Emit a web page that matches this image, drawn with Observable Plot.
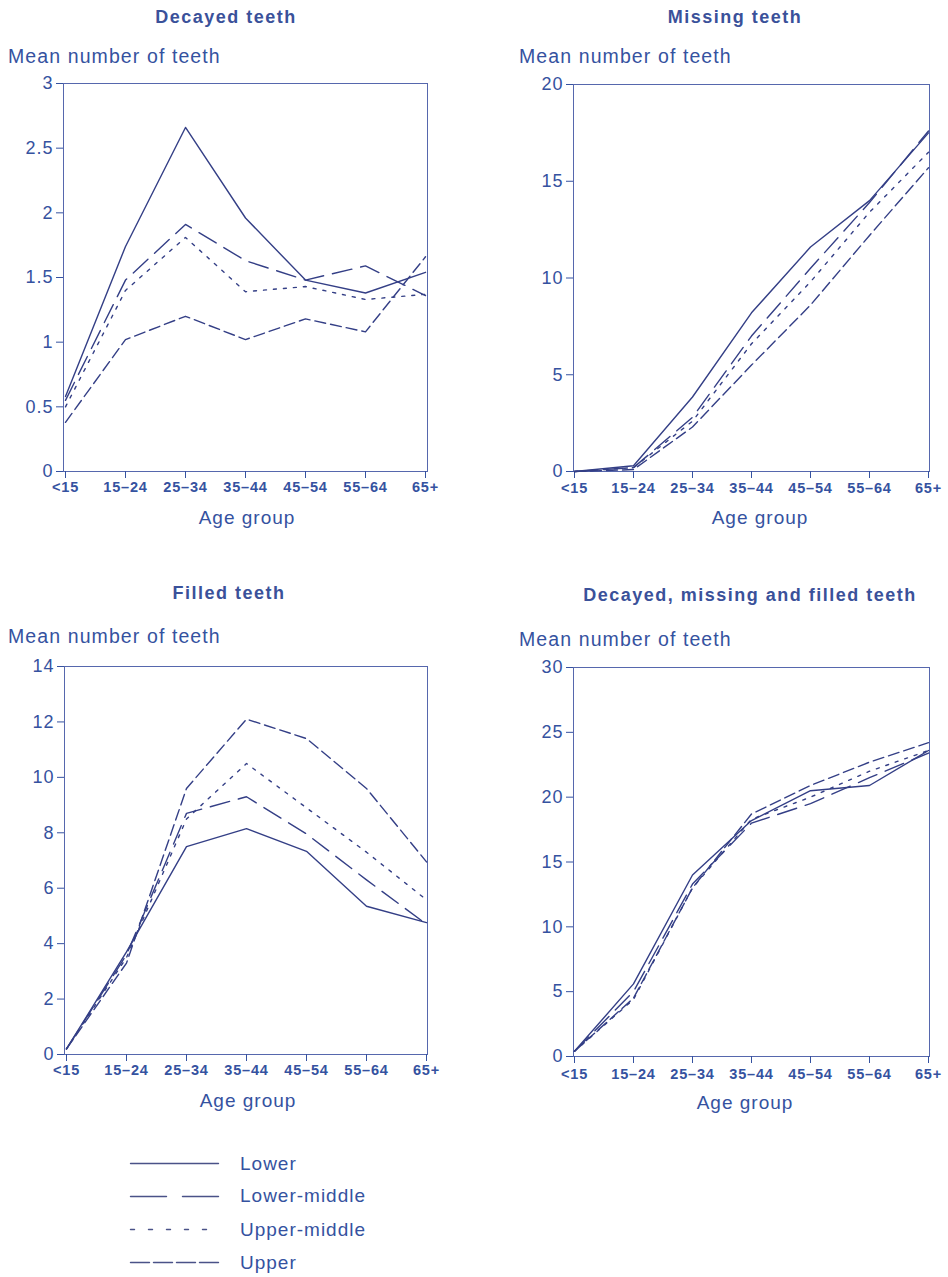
<!DOCTYPE html>
<html><head><meta charset="utf-8">
<script src="https://cdn.jsdelivr.net/npm/d3@7"></script>
<script src="https://cdn.jsdelivr.net/npm/@observablehq/plot@0.6"></script>
<style>
body{margin:0;background:#fff;}
#root{position:relative;width:948px;height:1277px;font-family:"Liberation Sans",Arial,sans-serif;color:#3552a0;overflow:hidden;}
.t{position:absolute;white-space:nowrap;line-height:1;}
.title{font-weight:bold;font-size:18px;letter-spacing:1.5px;transform:translateX(-50%);color:#3a519a;}
.ylab{font-size:19.5px;letter-spacing:1.1px;}
.xlab{font-size:19px;letter-spacing:1px;transform:translateX(-50%);}
.leg{font-size:19px;letter-spacing:1px;}
.panel{position:absolute;}
.panel svg{overflow:visible;}
.panel g[aria-label="x-axis tick label"] text{font-size:14.5px !important;font-weight:bold;letter-spacing:0.8px;}
.panel g[aria-label="y-axis tick label"] text{font-size:18px;letter-spacing:1px;}
</style>
</head><body><div id="root"></div>
<script>
const ages = ["<15", "15–24", "25–34", "35–44", "45–54", "55–64", "65+"];
const classes = ["Lower", "Lower-middle", "Upper-middle", "Upper"];

// Decayed teeth
const decayedLower       = [0.58, 1.74, 2.66, 1.96, 1.48, 1.38, 1.54];
const decayedLowerMiddle = [0.55, 1.48, 1.91, 1.63, 1.48, 1.59, 1.36];
const decayedUpperMiddle = [0.50, 1.40, 1.81, 1.39, 1.43, 1.33, 1.37];
const decayedUpper       = [0.38, 1.02, 1.20, 1.02, 1.18, 1.08, 1.66];

// Missing teeth
const missingLower       = [0, 0.3, 3.85, 8.2, 11.6, 14.0, 17.5];
const missingLowerMiddle = [0, 0.2, 2.8, 7.0, 10.5, 13.9, 17.6];
const missingUpperMiddle = [0, 0.2, 2.6, 6.6, 9.8, 13.4, 16.5];
const missingUpper       = [0, 0.1, 2.3, 5.5, 8.6, 12.2, 15.7];

// Filled teeth
const filledLower       = [0.2, 3.7, 7.5, 8.15, 7.33, 5.35, 4.76];
const filledLowerMiddle = [0.2, 3.6, 8.7, 9.3, 7.96, 6.3, 4.7];
const filledUpperMiddle = [0.2, 3.5, 8.5, 10.5, 8.9, 7.3, 5.58];
const filledUpper       = [0.2, 3.3, 9.6, 12.1, 11.4, 9.6, 6.95];

// Decayed, missing and filled teeth
const dmfLower       = [0.4, 5.6, 14.0, 18.2, 20.5, 20.9, 23.6];
const dmfLowerMiddle = [0.4, 5.0, 13.3, 18.0, 19.5, 21.5, 23.4];
const dmfUpperMiddle = [0.4, 4.4, 13.0, 18.3, 20.0, 22.0, 23.6];
const dmfUpper       = [0.4, 4.5, 13.0, 18.7, 20.9, 22.7, 24.2];

const yTicks1 = [0, 0.5, 1, 1.5, 2, 2.5, 3];
const yTicks2 = [0, 5, 10, 15, 20];
const yTicks3 = [0, 2, 4, 6, 8, 10, 12, 14];
const yTicks4 = [0, 5, 10, 15, 20, 25, 30];

const dashes = {"Lower": null, "Lower-middle": "20,9", "Upper-middle": "3,7", "Upper": "11,5"};
const legendDashes = {"Lower": null, "Lower-middle": "36,16", "Upper-middle": "4,14", "Upper": "19,4"};
const lineColor = "#343f86";
const axisColor = "#3552a0";

function rows(series) {
  const out = [];
  classes.forEach((c, i) => series[i].forEach((v, j) => out.push({cls: c, age: ages[j], value: v})));
  return out;
}

const panels = [
  {title: "Decayed teeth", tx: 226, ty: 7.5, yl: [8, 46.5], xl: [247, 507.5], box: [0, 70], ml: 63, mt: 13, mr: 23, fh: 388, tp: 3, max: 3, ticks: yTicks1,
   series: [decayedLower, decayedLowerMiddle, decayedUpperMiddle, decayedUpper]},
  {title: "Missing teeth", tx: 735, ty: 7.5, yl: [519, 46.5], xl: [760, 507.5], box: [510, 70], ml: 63, mt: 14, mr: 19, fh: 387, tp: 4, max: 20, ticks: yTicks2,
   series: [missingLower, missingLowerMiddle, missingUpperMiddle, missingUpper]},
  {title: "Filled teeth", tx: 229, ty: 584, yl: [8, 627], xl: [248, 1091], box: [0, 650], ml: 64, mt: 16, mr: 23, fh: 388, tp: 3, max: 14, ticks: yTicks3,
   series: [filledLower, filledLowerMiddle, filledUpperMiddle, filledUpper]},
  {title: "Decayed, missing and filled teeth", tx: 750, ty: 586, yl: [519, 630], xl: [745, 1093], box: [510, 650], ml: 63, mt: 17, mr: 19, fh: 389, tp: 5, max: 30, ticks: yTicks4,
   series: [dmfLower, dmfLowerMiddle, dmfUpperMiddle, dmfUpper]}
];

const root = document.getElementById("root");
function addText(cls, txt, x, y) {
  const d = document.createElement("div");
  d.className = "t " + cls;
  d.textContent = txt;
  d.style.left = x + "px";
  d.style.top = y + "px";
  root.appendChild(d);
}

for (const p of panels) {
  addText("title", p.title, p.tx, p.ty);
  addText("ylab", "Mean number of teeth", p.yl[0], p.yl[1]);
  addText("xlab", "Age group", p.xl[0], p.xl[1]);
  const data = rows(p.series);
  const width = (p.box[0] === 0 ? 450 : 438);
  const height = p.mt + p.fh + 70;
  const svg = Plot.plot({
    width, height,
    marginLeft: p.ml, marginTop: p.mt, marginRight: p.mr, marginBottom: 70,
    style: {fontFamily: '"Liberation Sans", Arial, sans-serif', color: axisColor, background: "transparent", overflow: "visible"},
    x: {type: "point", domain: ages, padding: 0},
    y: {domain: [0, p.max]},
    marks: [
      Plot.frame({stroke: "#5667ad", strokeWidth: 1}),
      Plot.axisY({ticks: p.ticks, tickFormat: d => String(d), tickSize: 7, tickPadding: 3, label: null, stroke: axisColor}),
      Plot.axisX({tickSize: 7, tickPadding: p.tp, label: null, stroke: axisColor}),
      ...classes.map(c => Plot.line(data.filter(d => d.cls === c), {
        x: "age", y: "value", stroke: lineColor, strokeWidth: 1.4,
        strokeDasharray: dashes[c] || undefined
      }))
    ]
  });
  const wrap = document.createElement("div");
  wrap.className = "panel";
  wrap.style.left = p.box[0] + "px";
  wrap.style.top = p.box[1] + "px";
  wrap.appendChild(svg);
  root.appendChild(wrap);
}

// Legend
const legendY = [1163, 1195, 1229, 1262];
const legSvg = Plot.plot({
  width: 110, height: 130, margin: 0,
  x: {domain: [0, 1], range: [20, 108]},
  y: {type: "point", domain: classes, range: [1163 - 1140, 1262 - 1140], padding: 0},
  axis: null,
  style: {background: "transparent"},
  marks: classes.map(c => Plot.line([{x: 0, c}, {x: 1, c}], {x: "x", y: "c", stroke: "#4a5288", strokeWidth: 1.4, strokeDasharray: legendDashes[c] || undefined}))
});
const lw = document.createElement("div");
lw.className = "panel";
lw.style.left = "110px";
lw.style.top = "1140px";
lw.appendChild(legSvg);
root.appendChild(lw);
classes.forEach((c, i) => addText("leg", c, 240, legendY[i] - 9.3));
</script>
</body></html>
